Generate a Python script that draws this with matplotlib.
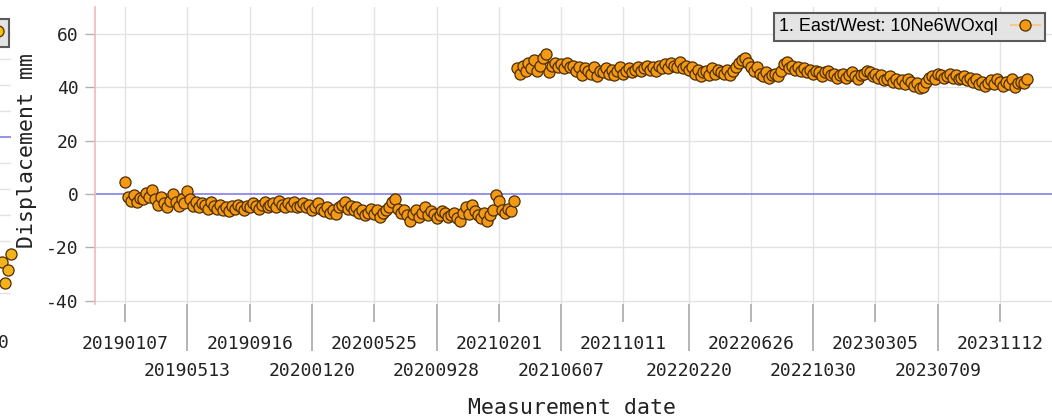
import numpy as np
import pandas as pd
import matplotlib
matplotlib.use("Agg")
import matplotlib.pyplot as plt
from matplotlib.lines import Line2D

# East/West displacement (mm), one sample every 6 days from 2019-01-07
first_date = "2019-01-07"
step_days = 6
ew_before = [
    4.5, -1, -2.5, -0.5, -3, -1.5, -2, 0.5, -1, 1.5,
    -2, -4, -1, -3.5, -5, -2.5, 0, -3, -4.5, -2,
    -3.5, 1, -2, -4.5, -3, -5, -3.5, -4, -5.5, -3,
    -4.5, -5.5, -4, -6, -5, -6.5, -4.5, -5.5, -4, -5,
    -6, -4.5, -5, -3.5, -4.5, -5.5, -4, -3, -5, -4,
    -3.5, -5, -2.5, -4, -5, -3.5, -4.5, -3, -5, -4.5,
    -3.5, -5, -4, -6, -5, -3.5, -5.5, -6.5, -5, -7,
    -6, -7.5, -5, -4, -3, -5.5, -4.5, -6, -5, -7,
    -6, -8, -7, -5.5, -7.5, -6, -8.5, -7, -6, -5,
    -3, -2, -5.5, -7, -6, -8, -10, -7.5, -6, -8.5,
    -7, -5, -8, -6.5, -7.5, -9, -8, -6.5, -7, -8.5,
    -8, -7, -9, -10, -7, -5, -7.5, -4, -6.5, -8,
    -9, -7, -10, -8, -6, -0.5, -2.5, -6, -7, -5.5,
    -6.5, -2.5,
]
ew_after = [
    47, 45, 48, 46, 49, 47, 50, 46, 48, 51,
    52.5, 45.5, 48, 49, 47.5, 48.5, 47, 49, 47.5, 48,
    46, 47.5, 44.5, 47, 46, 45, 47.5, 44, 46, 45.5,
    47, 45, 46.5, 44.5, 46, 47.5, 45, 46, 47, 45.5,
    46.5, 47.5, 46, 47, 48, 46.5, 47.5, 46, 48, 47,
    48.5, 47, 49, 48, 47.5, 49.5, 47, 48, 46.5, 47.5,
    45, 46.5, 44, 45.5, 46, 44.5, 47, 45, 46.5, 45.5,
    45, 46.5, 44.5, 46, 47.5, 49, 50, 51, 49, 47.5,
    46, 47.5, 45, 44, 45.5, 43.5, 44.5, 45, 44, 46,
    48.5, 49.5, 47, 48, 46.5, 47.5, 46, 47, 45.5, 46.5,
    45, 46, 45.5, 44, 45.5, 46, 44.5, 45, 43.5, 44.5,
    45, 43.5, 44.5, 45.5, 44, 43, 44.5, 45, 46, 45.5,
    44, 45, 43.5, 44.5, 42.5, 43, 44, 42, 43, 41.5,
    42.5, 41, 43, 42, 40.5, 41.5, 39.5, 40, 42, 43.5,
    44, 43, 45, 44.5, 43.5, 44, 45, 43.5, 44.5, 43,
    43.5, 44, 42.5, 43.5, 42, 43, 41, 42, 40.5, 41.5,
    42.5, 41, 43, 42, 40.5, 42, 41, 43, 40, 41.5,
    42, 41.5, 43,
]
series_label = "1. East/West: 10Ne6WOxql"

# date labels, upper and lower row
upper_ticks = ["20190107", "20190916", "20200525", "20210201",
               "20211011", "20220626", "20230305", "20231112"]
lower_ticks = ["20190513", "20200120", "20200928", "20210607",
               "20220220", "20221030", "20230709"]
y_ticks = [-40, -20, 0, 20, 40, 60]

# neighbouring panel (only its right edge shows)
side_tail = [-48, -56, -51, -45]
side_label = "2. Up/Down"

values = np.array(ew_before + ew_after)
dates = np.datetime64(first_date) + np.arange(len(values)) * np.timedelta64(step_days, "D")
up_pos = pd.to_datetime(upper_ticks, format="%Y%m%d")
lo_pos = pd.to_datetime(lower_ticks, format="%Y%m%d")

W, H = 1052, 419
fig = plt.figure(figsize=(W / 100, H / 100), dpi=100)
fig.patch.set_facecolor("white")

mono = "DejaVu Sans Mono"
orange = "#f29a16"
edge = "#4f2d00"
grid_c = "#e2e2e2"
ms = 8


def px_box(x0, x1, y0, y1):
    return [x0 / W, 1 - y1 / H, (x1 - x0) / W, (y1 - y0) / H]


# ---- main panel ----
ax = fig.add_axes(px_box(95, 1090, 7, 303.5))
ax.set_xlim(np.datetime64("2018-11-07"), np.datetime64("2024-05-12"))
ax.set_ylim(-41, 70)

for s in ["top", "right", "bottom"]:
    ax.spines[s].set_visible(False)
ax.spines["left"].set_color("#f2b8b8")
ax.spines["left"].set_linewidth(1.2)

ax.set_yticks(y_ticks)
ax.set_yticklabels([str(v) for v in y_ticks], family=mono, fontsize=13, color="#222222")
ax.tick_params(axis="y", length=7, width=1, color="#b0b0b0", pad=5)
for v in y_ticks:
    if v != 0:
        ax.axhline(v, color=grid_c, lw=1, zorder=0)
ax.axhline(0, color="#8080e8", lw=1.2, zorder=1)

ax.set_xticks(up_pos)
ax.set_xticklabels(upper_ticks, family=mono, fontsize=13, color="#222222")
ax.set_xticks(lo_pos, minor=True)
ax.set_xticklabels(lower_ticks, minor=True, family=mono, fontsize=13, color="#222222")
ax.tick_params(axis="x", which="major", length=13, width=1.2, color="#a8a8a8", pad=10)
ax.tick_params(axis="x", which="minor", length=34, width=1.2, color="#a8a8a8", pad=8)
for d in list(up_pos) + list(lo_pos):
    ax.axvline(d, color=grid_c, lw=1, zorder=0)

ax.plot(dates, values, "o", ms=ms, mfc=orange, mec=edge, mew=0.9, zorder=3)

ax.set_ylabel("Displacement mm", family=mono, fontsize=15.5, color="#222222")
ax.yaxis.set_label_coords(-0.058, 0.515)
ax.set_xlabel("Measurement date", family=mono, fontsize=15.5, color="#222222")
ax.xaxis.set_label_coords(0.479, -0.318)

handle = Line2D([], [], color="#f7c98a", lw=1.5, marker="o", ms=ms,
                mfc=orange, mec=edge, mew=0.9)
leg = ax.legend([handle], [series_label], loc="upper right",
                bbox_to_anchor=(1045 / W, 1 - 13 / H), bbox_transform=fig.transFigure,
                borderaxespad=0, markerfirst=False, fancybox=False, framealpha=1,
                handlelength=1.6, borderpad=0.3, handletextpad=0.7,
                prop={"family": "Liberation Sans", "size": 13})
leg.get_frame().set_facecolor("#e4e4e4")
leg.get_frame().set_edgecolor("#5a5a5a")
leg.get_frame().set_linewidth(1.5)

# ---- neighbouring panel on the left ----
ax0 = fig.add_axes(px_box(-500, 11, 7, 303.5))
ax0.set_xlim(np.datetime64("2021-02-05"), np.datetime64("2024-01-06"))
ax0.set_ylim(-64, 50)
ax0.axis("off")
for v in range(-60, 50, 10):
    ax0.axhline(v, color=grid_c if v else "#8080e8", lw=1.2 if v == 0 else 1, zorder=0)
ax0.plot(dates[-len(side_tail):], side_tail, "o", ms=ms, mfc="#f4b21c", mec=edge,
         mew=0.9, zorder=3, clip_on=False)
h0 = Line2D([], [], color="#f7e08a", lw=1.5, marker="o", ms=ms,
            mfc="#f2c200", mec=edge, mew=0.9)
leg0 = ax0.legend([h0], [side_label], loc="upper right",
                  bbox_to_anchor=(9 / W, 1 - 19 / H), bbox_transform=fig.transFigure,
                  borderaxespad=0, markerfirst=False, fancybox=False, framealpha=1,
                  handlelength=0.6, borderpad=0.3, handletextpad=0.6,
                  prop={"family": "Liberation Sans", "size": 13})
leg0.get_frame().set_facecolor("#e4e4e4")
leg0.get_frame().set_edgecolor("#5a5a5a")
leg0.get_frame().set_linewidth(1.5)
fig.text(-2 / W, 1 - 343 / H, "0", family=mono, fontsize=13, color="#222222",
         ha="left", va="center")

fig.savefig("out.png", dpi=100)
